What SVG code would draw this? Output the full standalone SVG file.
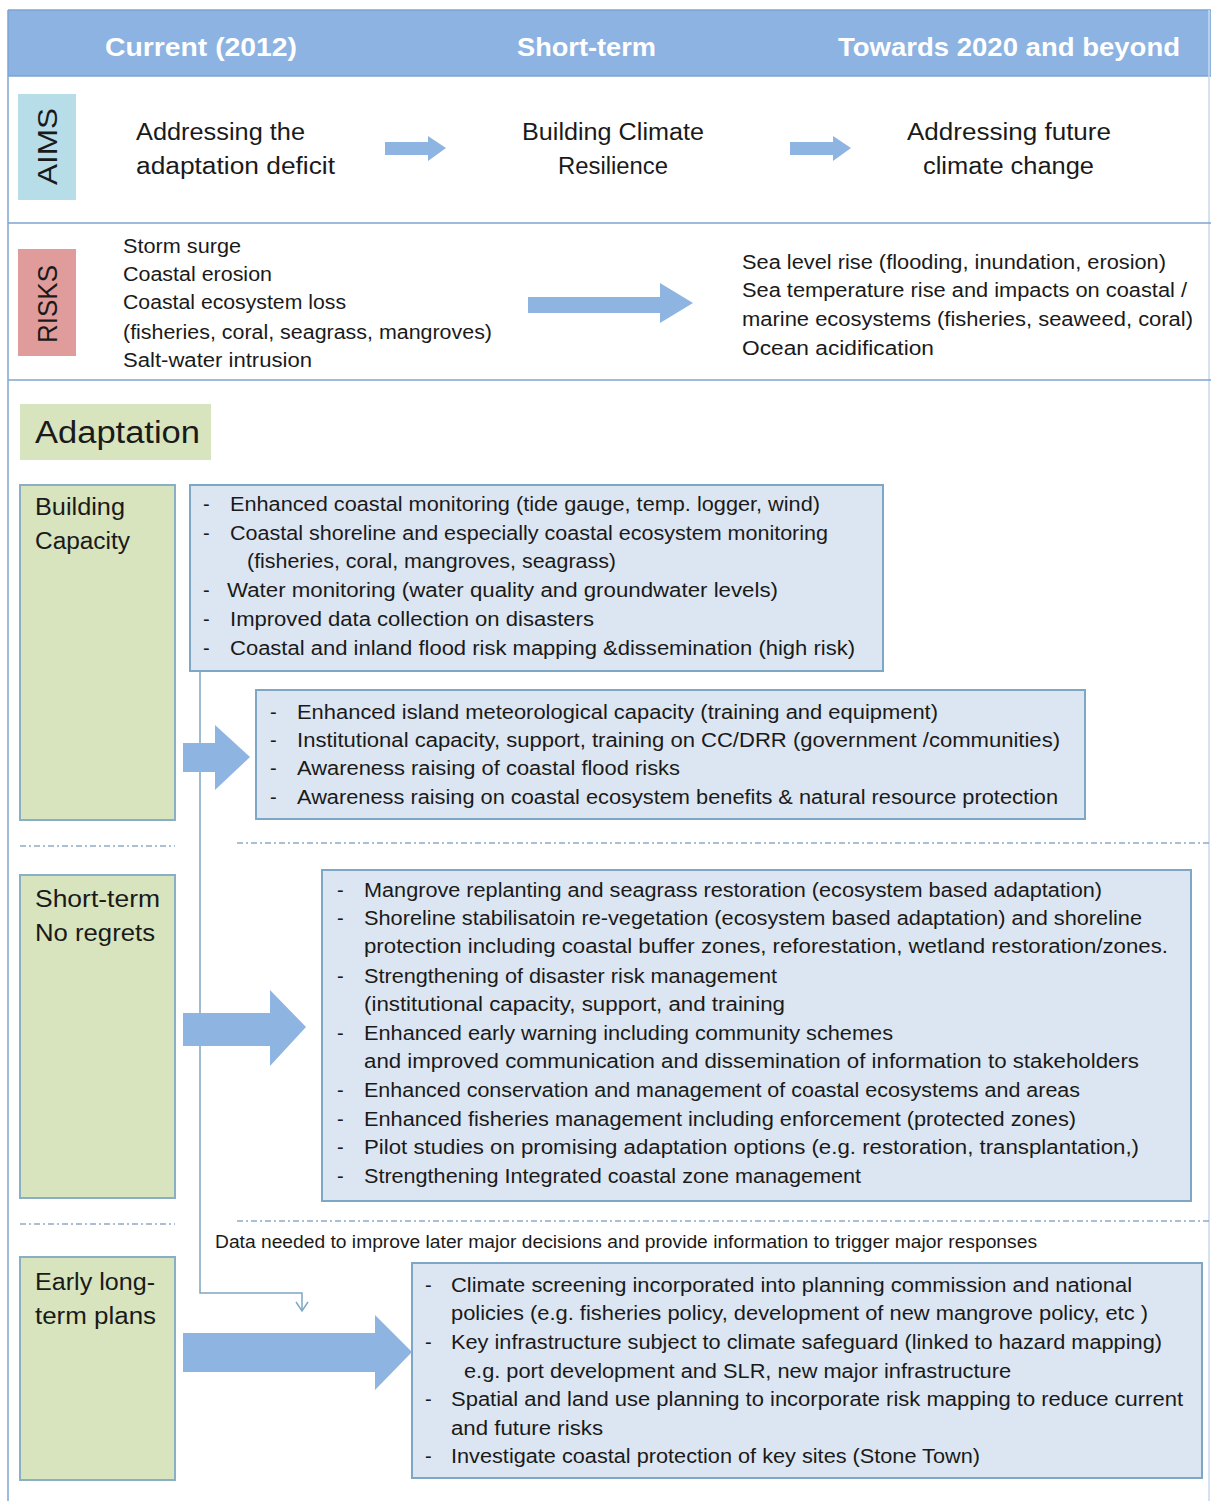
<svg xmlns="http://www.w3.org/2000/svg" width="1211" height="1501" viewBox="0 0 1211 1501">
<style>
text{font-family:"Liberation Sans",Arial,sans-serif;fill:#1a1a1a}
.hd{font-size:25px;font-weight:bold;fill:#ffffff}
.aim{font-size:23px}
.rk{font-size:19.5px}
.li{font-size:20px}
.gn{font-size:23px}
.side{font-size:27px}
.frame{stroke:#7EA3D2;stroke-width:1.5;fill:none}
.bbox{fill:#DCE6F2;stroke:#7DA7C4;stroke-width:2}
.gbox{fill:#D7E4BD;stroke:#8AAFC4;stroke-width:2}
.dd{stroke:#8FA9C6;stroke-width:1.3;stroke-dasharray:6 3 2 3;fill:none}
.arr{fill:#8EB4E2}
.thin{stroke:#7DA7C4;stroke-width:1.5;fill:none}
</style>
<rect width="1211" height="1501" fill="#ffffff"/>

<g id="frame">
  <rect x="8" y="10" width="1203" height="66" fill="#8DB3E2"/>
  <line class="frame" x1="8" y1="10" x2="1211" y2="10"/>
  <line class="frame" x1="8" y1="76" x2="1211" y2="76"/>
  <line class="frame" x1="8" y1="10" x2="8" y2="1501"/>
  <line x1="1209" y1="10" x2="1209" y2="1501" stroke="#C9D9EC" stroke-width="1.5"/>
  <line class="frame" x1="8" y1="223" x2="1211" y2="223"/>
  <line class="frame" x1="8" y1="380" x2="1211" y2="380"/>
</g>

<g id="header">
  <text class="hd" x="105" y="56" textLength="192" lengthAdjust="spacingAndGlyphs">Current (2012)</text>
  <text class="hd" x="517" y="56" textLength="139" lengthAdjust="spacingAndGlyphs">Short-term</text>
  <text class="hd" x="838" y="56" textLength="342" lengthAdjust="spacingAndGlyphs">Towards 2020 and beyond</text>
</g>

<g id="aims">
  <rect x="18" y="94" width="58" height="106" fill="#B7DEE8"/>
  <text class="side" transform="translate(57,185) rotate(-90)" textLength="77" lengthAdjust="spacingAndGlyphs">AIMS</text>
  <text class="aim" x="136" y="140" textLength="169" lengthAdjust="spacingAndGlyphs">Addressing the</text>
  <text class="aim" x="136" y="174" textLength="199" lengthAdjust="spacingAndGlyphs">adaptation deficit</text>
  <text class="aim" x="522" y="140" textLength="182" lengthAdjust="spacingAndGlyphs">Building Climate</text>
  <text class="aim" x="558" y="174" textLength="110" lengthAdjust="spacingAndGlyphs">Resilience</text>
  <text class="aim" x="907" y="140" textLength="204" lengthAdjust="spacingAndGlyphs">Addressing future</text>
  <text class="aim" x="923" y="174" textLength="171" lengthAdjust="spacingAndGlyphs">climate change</text>
</g>

<g id="risks">
  <rect x="18" y="249" width="58" height="107" fill="#DF9C9A"/>
  <text class="side" transform="translate(57,343) rotate(-90)" textLength="78" lengthAdjust="spacingAndGlyphs">RISKS</text>
  <text class="rk" x="123" y="253" textLength="118" lengthAdjust="spacingAndGlyphs">Storm  surge</text>
  <text class="rk" x="123" y="281" textLength="149" lengthAdjust="spacingAndGlyphs">Coastal erosion</text>
  <text class="rk" x="123" y="309" textLength="223" lengthAdjust="spacingAndGlyphs">Coastal ecosystem loss</text>
  <text class="rk" x="123" y="339" textLength="369" lengthAdjust="spacingAndGlyphs">(fisheries, coral, seagrass, mangroves)</text>
  <text class="rk" x="123" y="367" textLength="189" lengthAdjust="spacingAndGlyphs">Salt-water intrusion</text>
  <text class="rk" x="742" y="269" textLength="424" lengthAdjust="spacingAndGlyphs">Sea level rise (flooding, inundation, erosion)</text>
  <text class="rk" x="742" y="297" textLength="445" lengthAdjust="spacingAndGlyphs">Sea temperature rise and impacts on coastal /</text>
  <text class="rk" x="742" y="326" textLength="451" lengthAdjust="spacingAndGlyphs">marine ecosystems  (fisheries, seaweed, coral)</text>
  <text class="rk" x="742" y="355" textLength="192" lengthAdjust="spacingAndGlyphs">Ocean  acidification</text>
</g>

<g id="adaptation-title">
  <rect x="20" y="404" width="191" height="56" fill="#D7E4BD"/>
  <text x="35" y="443" font-size="31" textLength="165" lengthAdjust="spacingAndGlyphs">Adaptation</text>
</g>

<g id="building-capacity">
  <rect class="gbox" x="20" y="485" width="155" height="335"/>
  <text class="gn" x="35" y="515" textLength="90" lengthAdjust="spacingAndGlyphs">Building</text>
  <text class="gn" x="35" y="549" textLength="95" lengthAdjust="spacingAndGlyphs">Capacity</text>
</g>

<g id="short-term">
  <rect class="gbox" x="20" y="875" width="155" height="323"/>
  <text class="gn" x="35" y="907" textLength="125" lengthAdjust="spacingAndGlyphs">Short-term</text>
  <text class="gn" x="35" y="941" textLength="120" lengthAdjust="spacingAndGlyphs">No regrets</text>
</g>

<g id="early-long-term">
  <rect class="gbox" x="20" y="1257" width="155" height="223"/>
  <text class="gn" x="35" y="1290" textLength="120" lengthAdjust="spacingAndGlyphs">Early long-</text>
  <text class="gn" x="35" y="1324" textLength="121" lengthAdjust="spacingAndGlyphs">term plans</text>
</g>

<g id="monitoring-box">
  <rect class="bbox" x="190" y="485" width="693" height="186"/>
  <g class="li">
    <text x="203" y="511">-</text><text x="230" y="511" textLength="590" lengthAdjust="spacingAndGlyphs">Enhanced coastal monitoring (tide gauge, temp. logger, wind)</text>
    <text x="203" y="540">-</text><text x="230" y="540" textLength="598" lengthAdjust="spacingAndGlyphs">Coastal shoreline and especially coastal ecosystem monitoring</text>
    <text x="247" y="568" textLength="369" lengthAdjust="spacingAndGlyphs">(fisheries, coral, mangroves, seagrass)</text>
    <text x="203" y="597">-</text><text x="227" y="597" textLength="551" lengthAdjust="spacingAndGlyphs">Water monitoring  (water quality and groundwater levels)</text>
    <text x="203" y="626">-</text><text x="230" y="626" textLength="364" lengthAdjust="spacingAndGlyphs">Improved  data collection on disasters</text>
    <text x="203" y="655">-</text><text x="230" y="655" textLength="625" lengthAdjust="spacingAndGlyphs">Coastal and inland flood risk mapping &amp;dissemination  (high risk)</text>
  </g>
</g>

<g id="capacity-box">
  <rect class="bbox" x="256" y="690" width="829" height="129"/>
  <g class="li">
    <text x="270" y="719">-</text><text x="297" y="719" textLength="641" lengthAdjust="spacingAndGlyphs">Enhanced island meteorological capacity (training and  equipment)</text>
    <text x="270" y="747">-</text><text x="297" y="747" textLength="763" lengthAdjust="spacingAndGlyphs">Institutional capacity, support, training on CC/DRR  (government /communities)</text>
    <text x="270" y="775">-</text><text x="297" y="775" textLength="383" lengthAdjust="spacingAndGlyphs">Awareness  raising of coastal flood risks</text>
    <text x="270" y="804">-</text><text x="297" y="804" textLength="761" lengthAdjust="spacingAndGlyphs">Awareness  raising on coastal ecosystem benefits &amp; natural resource protection</text>
  </g>
</g>

<g id="no-regrets-box">
  <rect class="bbox" x="322" y="870" width="869" height="331"/>
  <g class="li">
    <text x="337" y="897">-</text><text x="364" y="897" textLength="738" lengthAdjust="spacingAndGlyphs">Mangrove replanting and seagrass restoration (ecosystem based adaptation)</text>
    <text x="337" y="925">-</text><text x="364" y="925" textLength="778" lengthAdjust="spacingAndGlyphs">Shoreline  stabilisatoin re-vegetation (ecosystem based adaptation) and shoreline</text>
    <text x="364" y="953" textLength="804" lengthAdjust="spacingAndGlyphs">protection  including coastal buffer zones, reforestation, wetland  restoration/zones.</text>
    <text x="337" y="983">-</text><text x="364" y="983" textLength="413" lengthAdjust="spacingAndGlyphs">Strengthening  of disaster risk management</text>
    <text x="364" y="1011" textLength="421" lengthAdjust="spacingAndGlyphs">(institutional capacity, support,  and training</text>
    <text x="337" y="1040">-</text><text x="364" y="1040" textLength="529" lengthAdjust="spacingAndGlyphs">Enhanced early warning including community  schemes</text>
    <text x="364" y="1068" textLength="775" lengthAdjust="spacingAndGlyphs">and improved  communication and dissemination of information  to stakeholders</text>
    <text x="337" y="1097">-</text><text x="364" y="1097" textLength="716" lengthAdjust="spacingAndGlyphs">Enhanced conservation and management of coastal ecosystems and areas</text>
    <text x="337" y="1126">-</text><text x="364" y="1126" textLength="712" lengthAdjust="spacingAndGlyphs">Enhanced fisheries management including enforcement (protected zones)</text>
    <text x="337" y="1154">-</text><text x="364" y="1154" textLength="775" lengthAdjust="spacingAndGlyphs">Pilot studies on promising adaptation options  (e.g. restoration, transplantation,)</text>
    <text x="337" y="1183">-</text><text x="364" y="1183" textLength="497" lengthAdjust="spacingAndGlyphs">Strengthening  Integrated coastal zone management</text>
  </g>
</g>

<g id="long-term-box">
  <rect class="bbox" x="412" y="1263" width="790" height="215"/>
  <g class="li">
    <text x="425" y="1292">-</text><text x="451" y="1292" textLength="681" lengthAdjust="spacingAndGlyphs">Climate screening incorporated into planning commission and national</text>
    <text x="451" y="1320" textLength="697" lengthAdjust="spacingAndGlyphs">policies (e.g. fisheries policy, development  of new mangrove policy, etc )</text>
    <text x="425" y="1349">-</text><text x="451" y="1349" textLength="711" lengthAdjust="spacingAndGlyphs">Key infrastructure subject to climate safeguard (linked to hazard mapping)</text>
    <text x="464" y="1378" textLength="547" lengthAdjust="spacingAndGlyphs">e.g. port development  and SLR, new major infrastructure</text>
    <text x="425" y="1406">-</text><text x="451" y="1406" textLength="732" lengthAdjust="spacingAndGlyphs">Spatial and land use planning to incorporate risk mapping to reduce  current</text>
    <text x="451" y="1435" textLength="152" lengthAdjust="spacingAndGlyphs">and future risks</text>
    <text x="425" y="1463">-</text><text x="451" y="1463" textLength="529" lengthAdjust="spacingAndGlyphs">Investigate coastal protection of key sites (Stone Town)</text>
  </g>
</g>

<g id="data-note">
  <text x="215" y="1248" font-size="17.5" textLength="822" lengthAdjust="spacingAndGlyphs">Data needed to improve later major decisions  and provide  information to trigger major responses</text>
</g>

<g id="separators">
  <line class="dd" x1="20" y1="846" x2="175" y2="846"/>
  <line class="dd" x1="237" y1="843" x2="1211" y2="843"/>
  <line class="dd" x1="20" y1="1224" x2="175" y2="1224"/>
  <line class="dd" x1="237" y1="1221" x2="1211" y2="1221"/>
</g>

<g id="connectors">
  <path class="thin" d="M200,671 V1293 H302 V1311"/>
  <path class="thin" d="M296,1302 L302,1311 L308,1302"/>
  <polygon class="arr" points="183,743 215,743 215,725 250,757 215,790 215,772 183,772"/>
  <polygon class="arr" points="183,1013 270,1013 270,990 306,1027 270,1066 270,1046 183,1046"/>
  <polygon class="arr" points="183,1333 375,1333 375,1315 412,1352 375,1390 375,1372 183,1372"/>
  <polygon class="arr" points="385,142 428,142 428,136 446,148 428,161 428,155 385,155"/>
  <polygon class="arr" points="790,142 833,142 833,136 851,148 833,161 833,155 790,155"/>
  <polygon class="arr" points="528,297 660,297 660,283 693,303 660,323 660,313 528,313"/>
</g>
</svg>
